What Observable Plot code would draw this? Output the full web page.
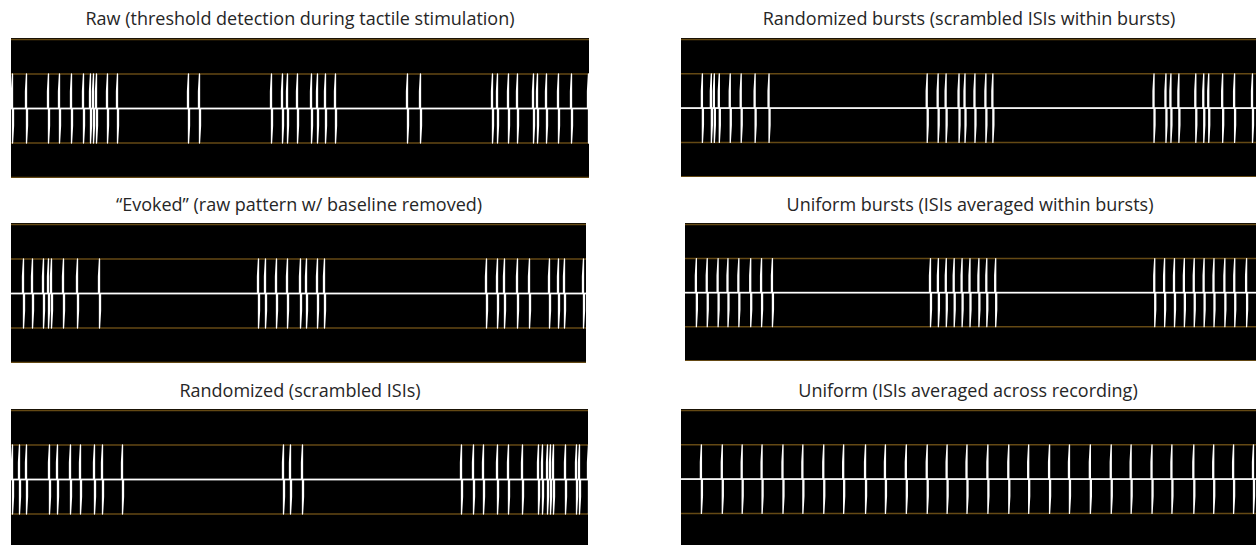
<!DOCTYPE html>
<html>
<head>
<meta charset="utf-8">
<script src="https://cdn.jsdelivr.net/npm/d3@7"></script>
<script src="https://cdn.jsdelivr.net/npm/@observablehq/plot@0.6"></script>
<style>
  html, body { margin: 0; padding: 0; background: #fff; width: 1256px; height: 545px; overflow: hidden; }
  #root { position: relative; width: 1256px; height: 545px; overflow: hidden; }
  .title { position: absolute; width: 700px; margin-left: -350px; text-align: center;
           font-family: "Open Sans", sans-serif; font-size: 18px; color: #262626; line-height: 22px; white-space: nowrap; }
  .panel { position: absolute; }
  .panel svg { display: block; }
</style>
</head>
<body>
<div id="root"></div>
<script>
// Panel titles
const titles = [
  "Raw (threshold detection during tactile stimulation)",
  "Randomized bursts (scrambled ISIs within bursts)",
  "\u201CEvoked\u201D (raw pattern w/ baseline removed)",
  "Uniform bursts (ISIs averaged within bursts)",
  "Randomized (scrambled ISIs)",
  "Uniform (ISIs averaged across recording)"
];

// Spike times (time units along each trace, 0–578)
const rawSpikes = [1, 15, 37, 48, 60, 72, 79, 82, 85, 96, 106, 177, 188, 260, 271, 276, 286, 300, 306, 314, 324, 396, 409, 481, 486, 497, 506, 522, 526, 535, 547, 560, 577];
const randBurstSpikes = [21, 30, 33, 38, 49, 60, 74, 88, 247, 258, 266, 279, 285, 295, 306, 313, 475, 487, 492, 500, 517, 525, 530, 544, 556, 574];
const evokedSpikes = [12, 21, 32, 37, 40, 52, 66, 88, 247, 254, 265, 276, 289, 295, 306, 313, 475, 486, 493, 506, 518, 538, 547, 553, 572];
const uniformBurstSpikes = [11, 22, 33, 43, 54, 66, 77, 88, 248, 256, 264, 272, 280, 288, 297, 305, 314, 475, 485, 495, 505, 515, 525, 535, 546, 556, 568];
const randomizedSpikes = [1, 8, 15, 38, 46, 59, 69, 83, 91, 111, 272, 279, 291, 450, 462, 472, 486, 497, 511, 527, 531, 536, 539, 542, 554, 565, 568, 577];
const uniformSpikes = [20, 41, 61, 81, 102, 122, 143, 163, 185, 205, 226, 247, 267, 287, 308, 329, 349, 370, 390, 411, 432, 452, 473, 493, 515, 535, 555, 575];

const panels = [
  {title: titles[0], spikes: rawSpikes,          left: 11,  top: 38,  tx: 300, ty: 7,   width: 578},
  {title: titles[1], spikes: randBurstSpikes,    left: 681, top: 38,  tx: 969, ty: 7,   width: 578},
  {title: titles[2], spikes: evokedSpikes,       left: 11,  top: 223, tx: 299, ty: 193, width: 575},
  {title: titles[3], spikes: uniformBurstSpikes, left: 685, top: 223, tx: 970, ty: 193, width: 578},
  {title: titles[4], spikes: randomizedSpikes,   left: 11,  top: 409, tx: 300, ty: 379, width: 577},
  {title: titles[5], spikes: uniformSpikes,      left: 681, top: 409, tx: 968, ty: 379, width: 578}
];

const orange = "#644914";

// biphasic spike drawn around each spike time
function waveform(spikes, T) {
  const pts = [{t: 0, v: 0}];
  for (const s of spikes) {
    pts.push({t: s - 1, v: 0}, {t: s - 1, v: 0.5}, {t: s, v: 1}, {t: s, v: -1}, {t: s + 1, v: -0.5}, {t: s + 1, v: 0});
  }
  pts.push({t: T, v: 0});
  return pts;
}

const root = document.getElementById("root");
for (const p of panels) {
  const t = document.createElement("div");
  t.className = "title";
  t.style.left = p.tx + "px";
  t.style.top = p.ty + "px";
  t.textContent = p.title;
  root.appendChild(t);

  const chart = Plot.plot({
    width: p.width,
    height: 140,
    marginLeft: 0, marginRight: 0, marginTop: 1, marginBottom: 1,
    x: {domain: [0, p.width], axis: null},
    y: {domain: [-2, 2], axis: null},
    style: {background: "black", overflow: "hidden"},
    marks: [
      Plot.ruleY([-2, -1, 1, 2], {stroke: orange, strokeWidth: 1.5}),
      Plot.ruleY([0], {stroke: "#c8c8c8", strokeWidth: 1.6}),
      Plot.line(waveform(p.spikes, p.width), {x: "t", y: "v", stroke: "white", strokeWidth: 1.3, curve: "linear"})
    ]
  });
  const d = document.createElement("div");
  d.className = "panel";
  d.style.left = p.left + "px";
  d.style.top = p.top + "px";
  d.appendChild(chart);
  root.appendChild(d);
}
</script>
</body>
</html>
